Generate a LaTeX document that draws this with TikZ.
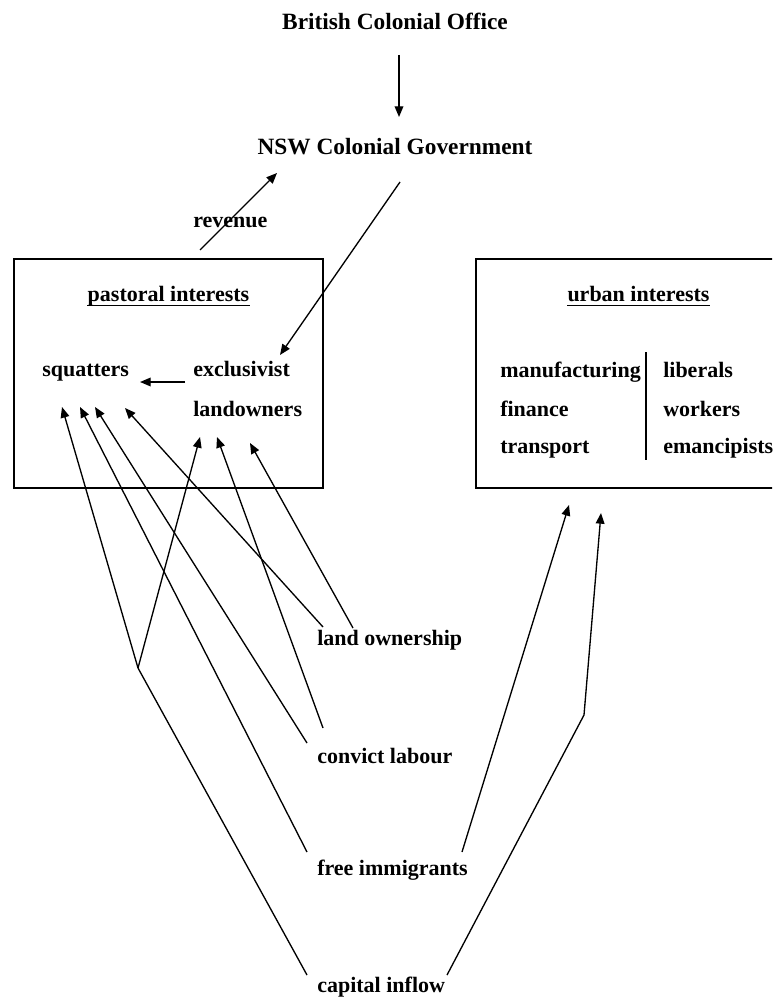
\documentclass[tikz,border=0pt]{standalone}
\usepackage{fontspec}
\setmainfont{Liberation Serif}
\usetikzlibrary{arrows.meta}
\tikzset{
  lbl/.style={inner sep=0pt, anchor=base west, font=\fontsize{16.5}{19}\selectfont\bfseries},
  ttl/.style={inner sep=0pt, anchor=base, font=\fontsize{17.5}{20}\selectfont\bfseries},
  hd/.style={inner sep=0pt, anchor=base, font=\fontsize{16.5}{19}\selectfont\bfseries},
  conn/.style={line width=1pt, -{Triangle[length=8pt,width=6.5pt]}},
  seg/.style={line width=1pt},
  box/.style={line width=1.1pt, draw},
  uline/.style={line width=1.3pt}
}
\begin{document}
\begin{tikzpicture}[x=0.75pt,y=-0.75pt]
\useasboundingbox (0,0) rectangle (772,998);
\clip (0,0) rectangle (772,998);
% boxes
\draw[box] (14,259) rectangle (323,488);
\draw[box] (476,259) rectangle (800,488);
\draw[line width=1.1pt] (646,352) -- (646,460);
% titles
\node[ttl] (bco) at (395,30) {British Colonial Office};
\node[ttl] (nsw) at (395,155) {NSW Colonial Government};
\node[lbl] (rev) at (193,228) {revenue};
\node[hd] (past) at (168.5,301) {pastoral interests};
\node[hd] (urb) at (638.5,301) {urban interests};
\draw[uline] ([yshift=-3.4pt]past.base west) -- ([yshift=-3.4pt]past.base east);
\draw[uline] ([yshift=-3.4pt]urb.base west) -- ([yshift=-3.4pt]urb.base east);
\node[lbl] (squ) at (42,376) {squatters};
\node[lbl] (exc) at (193,376) {exclusivist};
\node[lbl] (lan) at (193,416) {landowners};
\node[lbl] (man) at (500,377) {manufacturing};
\node[lbl] (fin) at (500,416) {finance};
\node[lbl] (tra) at (500,453) {transport};
\node[lbl] (lib) at (663,377) {liberals};
\node[lbl] (wor) at (663,416) {workers};
\node[lbl] (ema) at (663,453) {emancipists};
\node[lbl] (lo) at (317,645) {land ownership};
\node[lbl] (cl) at (317,763) {convict labour};
\node[lbl] (fi) at (317,875) {free immigrants};
\node[lbl] (ci) at (317,992) {capital inflow};
% connector end points
\coordinate (bcoS) at (399,55);
\coordinate (nswN) at (399,117);
\coordinate (revS) at (200,250);
\coordinate (nswW) at (277,173);
\coordinate (nswS) at (400,182);
\coordinate (excN) at (280,355);
\coordinate (excW) at (185,382);
\coordinate (squE) at (140,382);
\coordinate (sq1) at (62,407);
\coordinate (sq2) at (80,407);
\coordinate (sq3) at (95,407);
\coordinate (sq4) at (125,408);
\coordinate (la1) at (200,437);
\coordinate (la2) at (217,437);
\coordinate (la3) at (250,443);
\coordinate (lo1) at (323,627);
\coordinate (lo2) at (353,628);
\coordinate (cl1) at (323,728);
\coordinate (cl2) at (307,743);
\coordinate (fi1) at (307,852);
\coordinate (fi2) at (462,852);
\coordinate (ci1) at (307,975);
\coordinate (ci2) at (447,975);
\coordinate (jn) at (138,668);
\coordinate (bend) at (584,715);
\coordinate (ur1) at (569,505);
\coordinate (ur2) at (601,513);
% connectors
\draw[conn] (bcoS) -- (nswN);
\draw[conn] (revS) -- (nswW);
\draw[conn] (nswS) -- (excN);
\draw[conn] (excW) -- (squE);
\draw[conn] (lo1) -- (sq4);
\draw[conn] (lo2) -- (la3);
\draw[conn] (cl1) -- (la2);
\draw[conn] (cl2) -- (sq3);
\draw[conn] (fi1) -- (sq2);
\draw[conn] (fi2) -- (ur1);
\draw[seg] (ci1) -- (jn);
\draw[conn] (jn) -- (sq1);
\draw[conn] (jn) -- (la1);
\draw[conn] (ci2) -- (bend) -- (ur2);
\end{tikzpicture}
\end{document}
